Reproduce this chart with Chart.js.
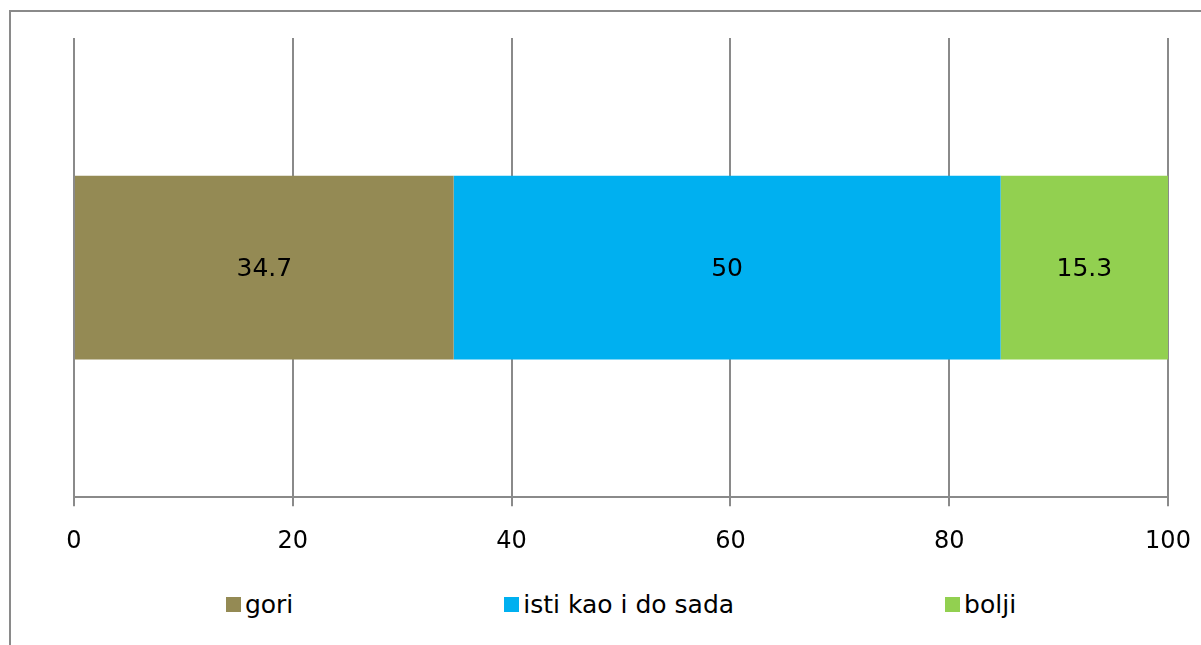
<!DOCTYPE html>
<html lang="hr">
<head>
    <meta charset="UTF-8">
    <title>Stacked bar</title>
    <script src="https://cdn.jsdelivr.net/npm/chart.js"></script>
    <style>
        html, body { margin: 0; padding: 0; background: #fff; overflow: hidden; }
        #frame {
            position: absolute; left: 9px; top: 10px;
            width: 1220px; height: 660px;
            border: 2px solid #8a8a8a;
        }
        #chartBox { position: absolute; left: 0; top: 0; width: 1220px; height: 565px; }
        #legend {
            position: absolute; left: 0; top: 578px; width: 1220px;
            display: flex; justify-content: center; gap: 211px;
            font-family: "DejaVu Sans", sans-serif; font-size: 25px; color: #000;
        }
        .item { display: flex; align-items: center; }
        .box { width: 15px; height: 15px; margin-right: 4px; }
    </style>
</head>
<body>
    <div id="frame">
        <div id="chartBox"><canvas id="barChart"></canvas></div>
        <div id="legend"></div>
    </div>

    <script>
        // data
        const categories = [""];
        const seriesNames = ["gori", "isti kao i do sada", "bolji"];
        const seriesValues = [[34.7], [50], [15.3]];
        const seriesColors = ["#948A54", "#00B0F0", "#92D050"];
        const xTicks = [0, 20, 40, 60, 80, 100];

        const fontFamily = "DejaVu Sans";
        const gridColor = "#8a8a8a";

        // value labels in the middle of each segment
        const valueLabels = {
            id: "valueLabels",
            afterDatasetsDraw(chart) {
                const ctx = chart.ctx;
                ctx.save();
                ctx.font = "25px '" + fontFamily + "'";
                ctx.fillStyle = "#000";
                ctx.textAlign = "center";
                ctx.textBaseline = "middle";
                chart.data.datasets.forEach((ds, i) => {
                    chart.getDatasetMeta(i).data.forEach((bar, j) => {
                        const p = bar.getCenterPoint();
                        ctx.fillText(String(ds.data[j]), p.x, p.y + 2);
                    });
                });
                ctx.restore();
            }
        };

        new Chart(document.getElementById("barChart"), {
            type: "bar",
            data: {
                labels: categories,
                datasets: seriesNames.map((name, i) => ({
                    label: name,
                    data: seriesValues[i],
                    backgroundColor: seriesColors[i],
                    borderWidth: 0,
                    barPercentage: 0.4,
                    categoryPercentage: 1
                }))
            },
            options: {
                indexAxis: "y",
                responsive: true,
                maintainAspectRatio: false,
                animation: false,
                layout: { padding: { left: 63, right: 63, top: 26, bottom: 0 } },
                plugins: {
                    legend: { display: false },
                    tooltip: { enabled: false }
                },
                scales: {
                    x: {
                        stacked: true,
                        min: 0,
                        max: 100,
                        afterBuildTicks: (axis) => { axis.ticks = xTicks.map(v => ({ value: v })); },
                        grid: { color: gridColor, lineWidth: 2, tickLength: 9, tickColor: gridColor },
                        border: { color: gridColor, width: 2 },
                        ticks: {
                            color: "#000",
                            padding: 21,
                            maxRotation: 0,
                            font: { family: fontFamily, size: 24 }
                        }
                    },
                    y: {
                        stacked: true,
                        display: false
                    }
                }
            },
            plugins: [valueLabels]
        });

        // legend built from the same arrays
        const legend = document.getElementById("legend");
        seriesNames.forEach((name, i) => {
            const item = document.createElement("div");
            item.className = "item";
            const box = document.createElement("span");
            box.className = "box";
            box.style.background = seriesColors[i];
            item.appendChild(box);
            item.appendChild(document.createTextNode(name));
            legend.appendChild(item);
        });
    </script>
</body>
</html>
